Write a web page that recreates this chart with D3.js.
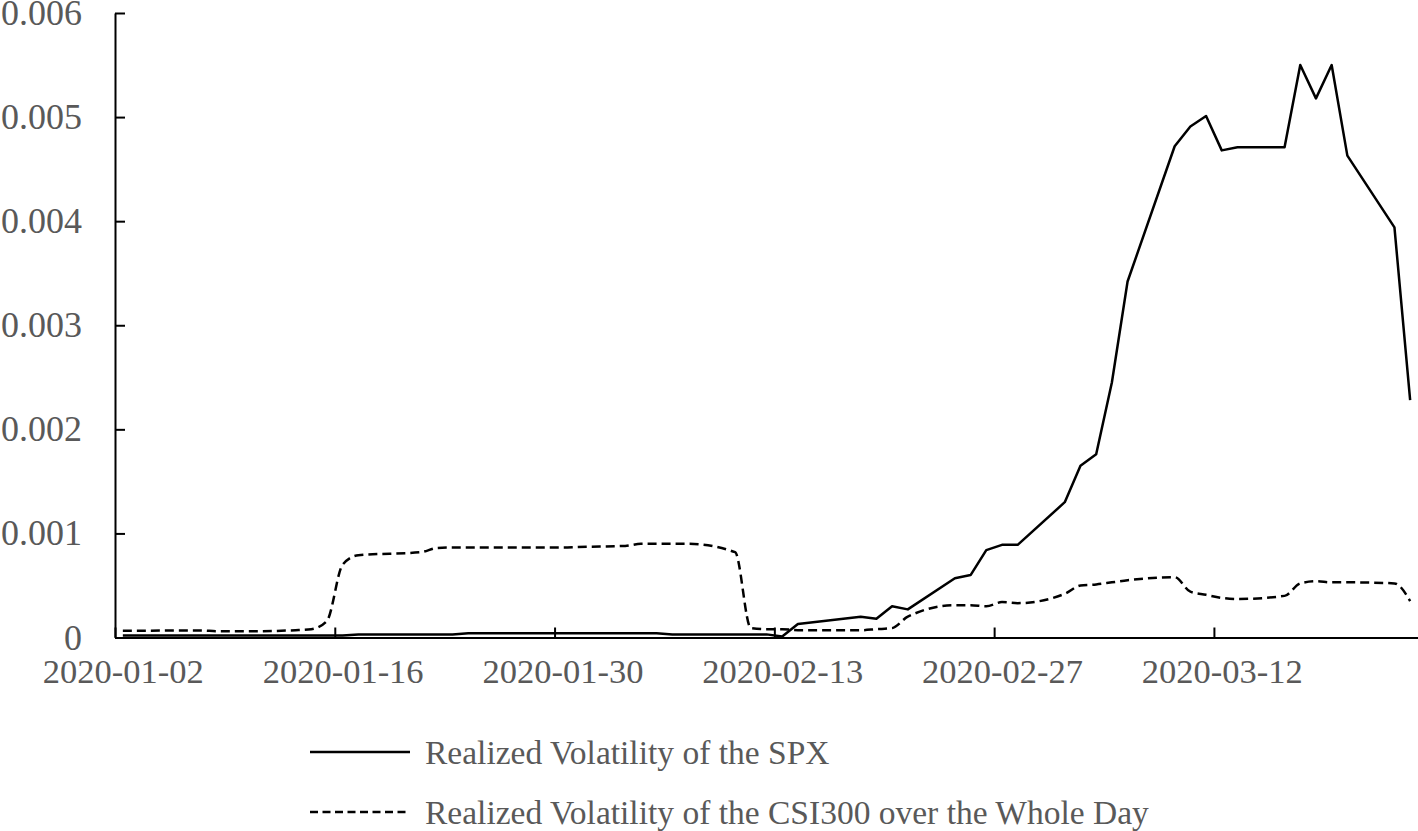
<!DOCTYPE html>
<html>
<head>
<meta charset="utf-8">
<script src="https://cdn.jsdelivr.net/npm/d3@7"></script>
<style>
  body { margin: 0; background: #fff; }
  text { font-family: "Liberation Serif", "Times New Roman", serif; fill: #595959; }
</style>
</head>
<body>
<div id="chart"></div>
<script>
// trading days shown on the chart
var dates = [
  "2020-01-02", "2020-01-03", "2020-01-06", "2020-01-07", "2020-01-08", "2020-01-09", "2020-01-10",
  "2020-01-13", "2020-01-14", "2020-01-15", "2020-01-16", "2020-01-17", "2020-01-21", "2020-01-22",
  "2020-01-23", "2020-01-24", "2020-01-27", "2020-01-28", "2020-01-29", "2020-01-30", "2020-01-31",
  "2020-02-03", "2020-02-04", "2020-02-05", "2020-02-06", "2020-02-07", "2020-02-10", "2020-02-11",
  "2020-02-12", "2020-02-13", "2020-02-14", "2020-02-18", "2020-02-19", "2020-02-20", "2020-02-21",
  "2020-02-24", "2020-02-25", "2020-02-26", "2020-02-27", "2020-02-28",
  "2020-03-02", "2020-03-03", "2020-03-04", "2020-03-05", "2020-03-06", "2020-03-09", "2020-03-10",
  "2020-03-11", "2020-03-12", "2020-03-13", "2020-03-16", "2020-03-17", "2020-03-18", "2020-03-19",
  "2020-03-20", "2020-03-23", "2020-03-24"
];

var spx = [
  0.00002, 0.00002, 0.00002, 0.00002, 0.00002, 0.00002, 0.00002,
  0.00002, 0.00002, 0.00002, 0.00002, 0.00003, 0.00003, 0.00003,
  0.00003, 0.00004, 0.00004, 0.00004, 0.00004, 0.00004, 0.00004,
  0.00004, 0.00004, 0.00004, 0.00003, 0.00003, 0.00003, 0.00003,
  0.00003, 0.00001, 0.00013, 0.00020, 0.00018, 0.00030, 0.00027,
  0.00057, 0.00060, 0.00084, 0.00089, 0.00089,
  0.00130, 0.00165, 0.00176, 0.00245, 0.00342, 0.00472, 0.00491,
  0.00501, 0.00468, 0.00471, 0.00471, 0.00550, 0.00518, 0.00550,
  0.00463, 0.00394, 0.00228
];

var csi = [
  0.000065, 0.000065, 0.000068, 0.000068, 0.00006, 0.00006, 0.00006,
  0.00007, 0.00008, 0.00016, 0.00070, 0.00079, 0.00082, 0.00086,
  0.000865, 0.000865, 0.000865, 0.000865, 0.000865, 0.000865, 0.00087,
  0.00088, 0.00090, 0.00090, 0.00090, 0.00090, 0.00082, 0.00009,
  0.00008, 0.00008, 0.00007, 0.00007, 0.00008, 0.00009, 0.00020,
  0.00031, 0.00031, 0.00030, 0.00034, 0.00033,
  0.00042, 0.00050, 0.00051, 0.00053, 0.00055, 0.00058, 0.00044,
  0.00041, 0.00038, 0.00037, 0.00040, 0.00052, 0.00054, 0.00053,
  0.00053, 0.00052, 0.00035
];

var xTickLabels = ["2020-01-02", "2020-01-16", "2020-01-30", "2020-02-13", "2020-02-27", "2020-03-12"];
var yTicks = [0, 0.001, 0.002, 0.003, 0.004, 0.005, 0.006];
var seriesNames = ["Realized Volatility of the SPX", "Realized Volatility of the CSI300 over the Whole Day"];

var width = 1418, height = 831;
var parse = d3.utcParse("%Y-%m-%d");

var svg = d3.select("#chart").append("svg")
    .attr("width", width)
    .attr("height", height);

// each day is a slot, points sit in the middle of the slot
var x = d3.scaleUtc()
    .domain([parse("2020-01-02"), parse("2020-03-25")])
    .range([115, 1418]);
var y = d3.scaleLinear()
    .domain([0, 0.006])
    .range([637.5, 13]);

function mid(s) { return d3.utcHour.offset(parse(s), 12); }
var halfDay = x(mid("2020-01-02")) - x(parse("2020-01-02"));

// x axis
var gx = svg.append("g")
    .attr("transform", "translate(0," + y(0) + ")")
    .call(d3.axisBottom(x)
        .tickValues(xTickLabels.map(parse))
        .tickFormat(d3.utcFormat("%Y-%m-%d"))
        .tickSizeInner(-10)
        .tickSizeOuter(0)
        .tickPadding(21));
gx.select(".domain").attr("stroke", "#000").attr("stroke-width", 2);
gx.selectAll(".tick line").attr("stroke", "#000").attr("stroke-width", 2);
gx.selectAll(".tick text")
    .attr("x", halfDay)
    .style("font-size", "34.5px")
    .style("fill", "#595959");

// y axis
var gy = svg.append("g")
    .attr("transform", "translate(115,0)")
    .call(d3.axisLeft(y)
        .tickValues(yTicks)
        .tickFormat(function(d) { return d === 0 ? "0" : d3.format(".3f")(d); })
        .tickSizeInner(-10)
        .tickSizeOuter(0)
        .tickPadding(33));
gy.select(".domain").attr("stroke", "#000").attr("stroke-width", 2);
gy.selectAll(".tick line").attr("stroke", "#000").attr("stroke-width", 2);
gy.selectAll(".tick text")
    .style("font-size", "36px")
    .style("fill", "#595959");

// lines
var lineStraight = d3.line()
    .x(function(d) { return x(mid(d.date)); })
    .y(function(d) { return y(d.v); });
var lineSmooth = d3.line()
    .x(function(d) { return x(mid(d.date)); })
    .y(function(d) { return y(d.v); })
    .curve(d3.curveMonotoneX);

var spxData = dates.map(function(d, i) { return { date: d, v: spx[i] }; });
var csiData = dates.map(function(d, i) { return { date: d, v: csi[i] }; });

svg.append("path")
    .datum(csiData)
    .attr("d", lineSmooth)
    .attr("fill", "none")
    .attr("stroke", "#000")
    .attr("stroke-width", 2.5)
    .attr("stroke-dasharray", "9,5");

svg.append("path")
    .datum(spxData)
    .attr("d", lineStraight)
    .attr("fill", "none")
    .attr("stroke", "#000")
    .attr("stroke-width", 2.5)
    .attr("stroke-linejoin", "round");

// legend
var legend = svg.append("g");
var rows = [
  { name: seriesNames[0], dash: null, ly: 752, ty: 764 },
  { name: seriesNames[1], dash: "8,4.5", ly: 812, ty: 824 }
];
rows.forEach(function(r) {
  legend.append("line")
      .attr("x1", 310).attr("x2", 410)
      .attr("y1", r.ly).attr("y2", r.ly)
      .attr("stroke", "#000")
      .attr("stroke-width", 2.5)
      .attr("stroke-dasharray", r.dash);
  legend.append("text")
      .attr("x", 425)
      .attr("y", r.ty)
      .style("font-size", "33.5px")
      .text(r.name);
});
</script>
</body>
</html>
